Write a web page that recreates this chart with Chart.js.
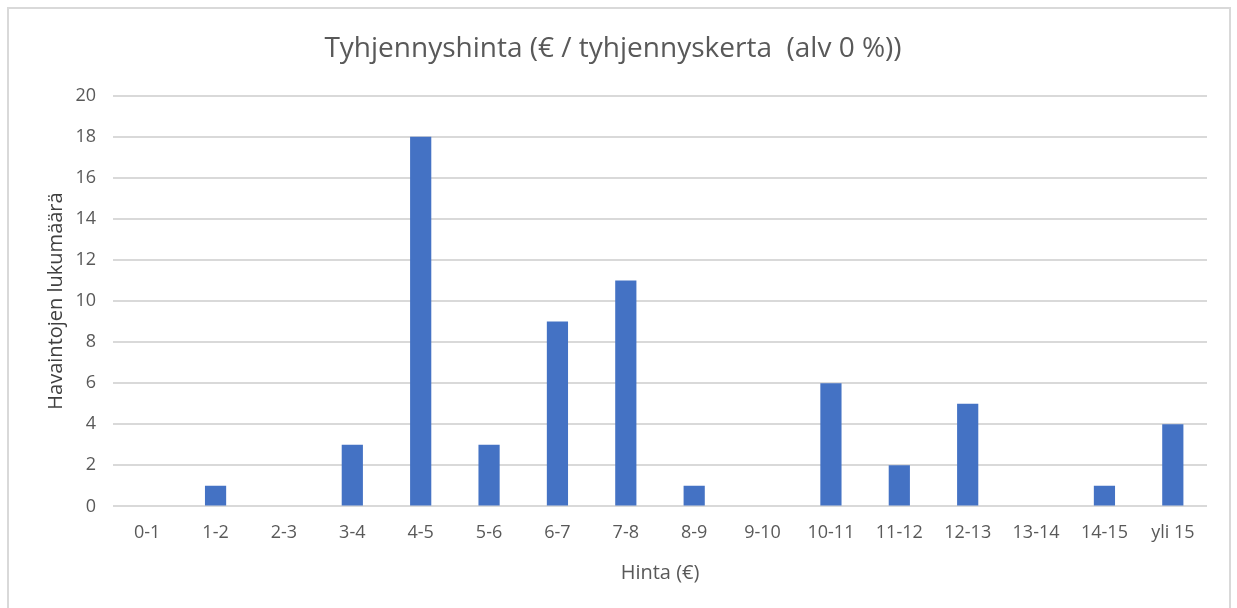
<!DOCTYPE html>
<html>
<head>
<meta charset="utf-8">
<script src="https://cdn.jsdelivr.net/npm/chart.js@4"></script>
<style>
    body { margin: 0; background: #fff; }
    #box { position: absolute; left: 7px; top: 7px; width: 1224px; height: 610px;
           border: 2px solid #d9d9d9; box-sizing: border-box; }
    #chart_wrap { position: absolute; left: 0; top: 0; width: 1220px; height: 606px; }
</style>
</head>
<body>
<div id="box"><div id="chart_wrap"><canvas id="price_chart"></canvas></div></div>
<script>
var price_ranges = ["0-1", "1-2", "2-3", "3-4", "4-5", "5-6", "6-7", "7-8", "8-9", "9-10",
                    "10-11", "11-12", "12-13", "13-14", "14-15", "yli 15"];
var observations = [0, 1, 0, 3, 18, 3, 9, 11, 1, 0, 6, 2, 5, 0, 1, 4];
var y_ticks = [0, 2, 4, 6, 8, 10, 12, 14, 16, 18, 20];

var text_color = "#595959";
var font_family = "'Open Sans', 'Liberation Sans', sans-serif";

function make_bar_chart(labels, values){
    new Chart(document.getElementById("price_chart"), {
        type: "bar",
        data: {
            labels: labels,
            datasets: [{
                data: values,
                backgroundColor: "#4472c4",
                borderWidth: 0,
                categoryPercentage: 1,
                barPercentage: 0.31
            }]
        },
        options: {
            responsive: true,
            maintainAspectRatio: false,
            animation: false,
            layout: {
                padding: { left: 10, right: 22, top: 0, bottom: 26 }
            },
            scales: {
                x: {
                    grid: { display: false },
                    border: { display: false },
                    ticks: { color: text_color, font: { family: font_family, size: 18 }, padding: 8 },
                    title: {
                        display: true,
                        text: "Hinta (€)",
                        color: text_color,
                        font: { family: font_family, size: 20 },
                        padding: { top: 9 }
                    }
                },
                y: {
                    min: 0,
                    max: 20,
                    afterBuildTicks: function(axis){
                        axis.ticks = y_ticks.map(function(v){ return { value: v }; });
                    },
                    afterFit: function(axis){
                        axis.width = 94;
                    },
                    grid: { color: "#d9d9d9", lineWidth: 2, drawTicks: false },
                    border: { display: false },
                    ticks: { color: text_color, font: { family: font_family, size: 18 }, padding: 17 },
                    title: {
                        display: true,
                        text: "Havaintojen lukumäärä",
                        color: "#404040",
                        font: { family: font_family, size: 20 },
                        padding: { top: 25, bottom: 4 }
                    }
                }
            },
            plugins: {
                legend: { display: false },
                tooltip: { enabled: false },
                title: {
                    display: true,
                    text: "Tyhjennyshinta (€ / tyhjennyskerta  (alv 0 %))",
                    color: text_color,
                    font: { family: font_family, size: 28, weight: "normal" },
                    padding: { top: 23, bottom: 30 }
                }
            }
        }
    });
}

make_bar_chart(price_ranges, observations);
</script>
</body>
</html>
